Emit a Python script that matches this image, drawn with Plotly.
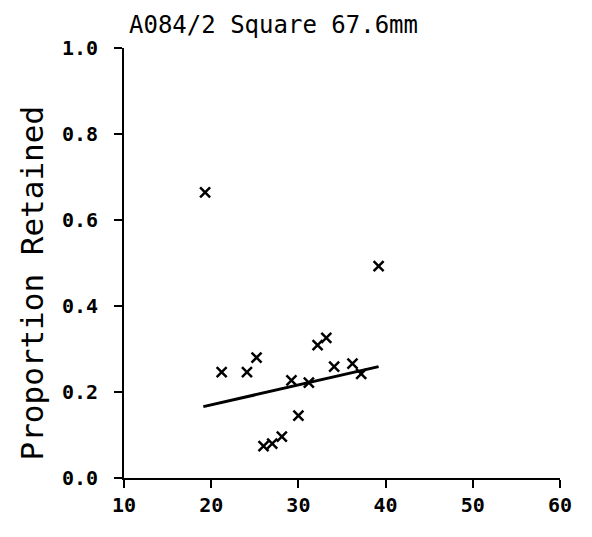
import plotly.graph_objects as go

# Data
mesh_x = [19.3, 21.2, 24.1, 25.2, 26.0, 27.0, 28.1, 29.2, 30.0, 31.2, 32.2, 33.2, 34.1, 36.2, 37.2, 39.2]
retained = [0.664, 0.246, 0.246, 0.280, 0.074, 0.080, 0.096, 0.227, 0.145, 0.222, 0.309, 0.326, 0.259, 0.266, 0.242, 0.493]
fit_x = [19.1, 39.2]
fit_y = [0.166, 0.259]

x_ticks = [10, 20, 30, 40, 50, 60]
y_ticks = [0.0, 0.2, 0.4, 0.6, 0.8, 1.0]
y_tick_text = ["0.0", "0.2", "0.4", "0.6", "0.8", "1.0"]

title_text = "A084/2 Square 67.6mm"
y_title = "Proportion Retained"

FONT = "DejaVu Sans Mono"

fig = go.Figure()
fig.add_trace(go.Scatter(
    x=fit_x, y=fit_y, mode="lines",
    line=dict(color="black", width=3), showlegend=False, hoverinfo="skip"))
fig.add_trace(go.Scatter(
    x=mesh_x, y=retained, mode="markers",
    marker=dict(symbol="x-thin", size=10, color="black",
                line=dict(color="black", width=2.5)),
    showlegend=False))

fig.update_layout(
    width=576, height=521,
    margin=dict(l=116, r=13, t=40, b=35),
    plot_bgcolor="white", paper_bgcolor="white",
    font=dict(family=FONT, color="black", size=20),
    xaxis=dict(range=[10, 60], tickvals=x_ticks, showgrid=False, zeroline=False,
               showline=True, linecolor="black", linewidth=2,
               ticks="outside", ticklen=8, tickwidth=2, tickcolor="black",
               ticklabeloverflow="allow",
               tickfont=dict(family=FONT, size=20, weight="bold")),
    yaxis=dict(range=[0, 1.0], tickvals=y_ticks, ticktext=y_tick_text,
               showgrid=False, zeroline=False,
               showline=True, linecolor="black", linewidth=2,
               ticks="outside", ticklen=8, tickwidth=2, tickcolor="black",
               ticklabelstandoff=12,
               tickfont=dict(family=FONT, size=20, weight="bold")),
    annotations=[
        dict(text=title_text, xref="paper", yref="paper",
             x=0.342, y=1 + 40 / 446, xanchor="center", yanchor="top",
             showarrow=False, font=dict(family=FONT, size=24)),
        dict(text=y_title, xref="paper", yref="paper",
             x=-94 / 447, y=0.453, xanchor="center", yanchor="middle",
             textangle=-90, showarrow=False, font=dict(family=FONT, size=31)),
    ],
)

fig.write_html("out.html", config={"displayModeBar": False})
